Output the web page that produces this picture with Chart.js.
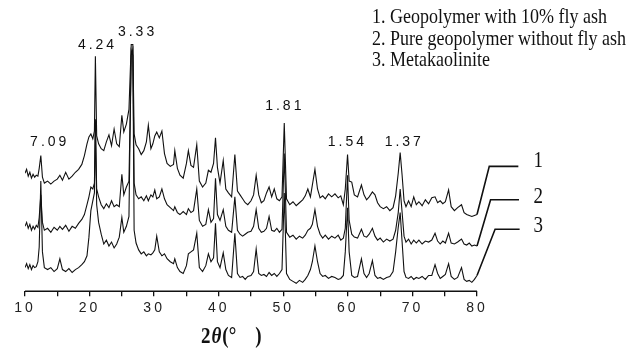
<!DOCTYPE html>
<html>
<head>
<meta charset="utf-8">
<title>XRD patterns</title>
<script src="https://cdn.jsdelivr.net/npm/chart.js@4.4.1/dist/chart.umd.min.js"></script>
<style>
  html, body { margin: 0; padding: 0; background: #fff; }
  canvas { display: block; }
</style>
</head>
<body>
<canvas id="xrdChart" width="637" height="349"></canvas>
<script>
// 2-theta grid (degrees), shared by the three patterns
const angles = [
  10, 10.25, 10.5, 10.75, 11, 11.25, 11.5, 11.75, 12, 12.2,
  12.45, 12.7, 13, 13.5, 14, 14.5, 15, 15.4, 15.8, 16.3,
  16.8, 17.3, 17.8, 18.3, 18.8, 19.2, 19.6, 19.9, 20.2, 20.5,
  20.75, 20.9, 21.1, 21.4, 21.8, 22.2, 22.6, 23.0, 23.4, 23.8,
  24.2, 24.6, 25.0, 25.3, 25.7, 26.1, 26.45, 26.7, 26.9, 27.2,
  27.6, 28.0, 28.4, 28.8, 29.1, 29.5, 29.8, 30.1, 30.4, 30.8,
  31.2, 31.6, 32.0, 32.5, 33.0, 33.2, 33.6, 34.0, 34.5, 35.0,
  35.3, 35.7, 36.1, 36.6, 37.0, 37.5, 38.0, 38.4, 38.8, 39.2,
  39.5, 39.8, 40.2, 40.7, 41.1, 41.5, 42.0, 42.5, 42.9, 43.3,
  43.7, 44.1, 44.5, 45.0, 45.4, 45.8, 46.2, 46.6, 47.0, 47.4,
  47.8, 48.2, 48.6, 49.0, 49.4, 49.8, 50.15, 50.5, 51.0, 51.5,
  52.0, 52.5, 53.0, 53.4, 53.8, 54.2, 54.5, 54.9, 55.3, 55.7,
  56.1, 56.5, 57.0, 57.5, 58.0, 58.5, 58.9, 59.3, 59.6, 59.95,
  60.2, 60.6, 61.0, 61.5, 62.1, 62.5, 62.9, 63.3, 63.8, 64.2,
  64.6, 65.0, 65.5, 66.0, 66.5, 67.0, 67.4, 67.8, 68.1, 68.4,
  68.7, 69.0, 69.4, 69.8, 70.2, 70.6, 71.0, 71.5, 72.0, 72.5,
  73.0, 73.5, 73.9, 74.3, 74.7, 75.1, 75.6, 76.0, 76.5, 77.0,
  77.6, 78.0, 78.4, 78.8, 79.2, 79.6, 80.0
];

// intensities, arbitrary units, already stacked as in the figure
// 1. Geopolymer with 10% fly ash
const flyAsh10 = [
  120, 124, 117, 121, 115, 119, 116, 118, 117, 125,
  138, 116, 110, 112, 109, 112, 114, 118, 113, 121,
  114, 117, 121, 124, 129, 138, 150, 157, 160, 155,
  163, 239, 158, 150, 145, 143, 152, 159, 148, 165,
  150, 147, 179, 162, 170, 185, 251, 251, 160, 149,
  145, 139, 143, 152, 169, 145, 150, 158, 162, 156,
  163, 140, 130, 127, 129, 143, 125, 118, 115, 130,
  143, 128, 126, 149, 112, 106, 110, 123, 121, 130,
  156, 126, 110, 133, 104, 100, 96, 139, 102, 98,
  94, 90, 88, 92, 98, 118, 98, 90, 92, 100,
  106, 96, 104, 94, 92, 96, 171, 94, 88, 91,
  87, 90, 93, 97, 104, 96, 108, 124, 104, 95,
  97, 94, 99, 96, 99, 95, 97, 88, 104, 139,
  112, 111, 98, 96, 108, 98, 93, 96, 101, 98,
  90, 86, 84, 86, 82, 85, 97, 120, 141, 118,
  92, 86, 92, 86, 96, 88, 91, 87, 93, 89,
  95, 96, 90, 92, 89, 91, 103, 86, 82, 85,
  88, 80, 78, 77, 76, 77, 78
];
// 2. Pure geopolymer without fly ash
const pureGeo = [
  66, 70, 64, 68, 62, 66, 63, 67, 65, 75,
  98, 70, 62, 64, 60, 65, 62, 66, 63, 67,
  61, 66, 64, 69, 73, 78, 88, 96, 106, 104,
  110, 170, 104, 96, 88, 84, 89, 85, 92, 86,
  88, 86, 119, 98, 106, 112, 240, 246, 110, 98,
  94, 96, 92, 97, 92, 98, 96, 103, 94, 96,
  104, 94, 88, 85, 82, 86, 80, 78, 81, 78,
  84, 80, 82, 104, 72, 66, 68, 83, 70, 74,
  115, 78, 72, 83, 66, 62, 60, 96, 62, 58,
  56, 58, 60, 61, 66, 83, 64, 60, 61, 64,
  76, 62, 61, 64, 60, 63, 140, 60, 55, 57,
  53, 56, 54, 57, 62, 64, 68, 83, 66, 58,
  54, 57, 53, 56, 54, 57, 52, 54, 64, 118,
  72, 58, 55, 54, 63, 56, 55, 58, 64, 56,
  52, 54, 50, 53, 51, 53, 62, 80, 104, 80,
  56, 50, 53, 48, 52, 49, 52, 48, 51, 50,
  52, 59, 51, 48, 51, 49, 59, 49, 48, 50,
  53, 48, 47, 49, 46, 47, 46
];
// 3. Metakaolinite
const metakaolin = [
  24, 28, 23, 27, 22, 26, 24, 25, 30, 45,
  112, 40, 24, 22, 24, 20, 23, 33, 22, 20,
  23, 19, 22, 24, 27, 30, 36, 55, 82, 92,
  100, 175, 88, 70, 58, 48, 52, 46, 50, 44,
  48, 55, 75, 60, 66, 76, 245, 240, 62, 49,
  42, 38, 40, 36, 38, 37, 39, 42, 56, 40,
  36, 38, 33, 30, 28, 33, 24, 20, 18, 26,
  38, 40, 42, 59, 24, 20, 26, 38, 30, 34,
  69, 30, 24, 39, 22, 16, 14, 59, 18, 14,
  15, 12, 15, 16, 20, 43, 18, 16, 17, 15,
  19, 16, 18, 15, 18, 22, 100, 18, 12, 10,
  8, 11, 9, 12, 16, 22, 30, 46, 30, 18,
  15, 16, 13, 15, 14, 12, 13, 16, 40, 85,
  40, 16, 14, 15, 33, 18, 14, 18, 31, 16,
  13, 14, 12, 14, 15, 20, 40, 65, 80, 50,
  20, 14, 13, 15, 12, 14, 13, 15, 12, 16,
  16, 27, 18, 13, 15, 17, 28, 15, 12, 14,
  24, 12, 10, 11, 9, 12, 16
];

const seriesNames = ['1. Geopolymer with 10% fly ash', '2. Pure geopolymer without fly ash', '3. Metakaolinite'];
const seriesTags = ['1', '2', '3'];

// leader lines running from the end of each pattern to its number
const leaderX = [[80, 81.9, 86.4], [80, 82.1, 86.5], [80, 82.8, 86.6]];
const leaderY = [[78, 127, 127], [46, 93, 93], [16, 63, 63]];
const tagLevel = [132, 96, 66];
const tagAngle = 89.5;

// d-spacings marked over the peaks
const peakD = ['7.09', '4.24', '3.33', '1.81', '1.54', '1.37'];
const peakAngle = [13.6, 21.0, 27.2, 50.0, 59.7, 68.5];
const peakLabelLevel = [152, 250, 264, 188, 152, 152];

[flyAsh10, pureGeo, metakaolin].forEach((s, i) => {
  if (s.length !== angles.length) throw new Error('series ' + (i + 1) + ' has ' + s.length + ' values, expected ' + angles.length);
});

const INK = '#111';
const SANS = '"Liberation Sans", Arial, sans-serif';
const SERIF = '"Liberation Serif", "Times New Roman", serif';
const SY = 1.17; // serif text in the figure is a bit taller than wide

function toPoints(xs, ys) {
  return xs.map((a, i) => ({ x: a, y: ys[i] }));
}

function tallText(ctx, text, px, py) {
  ctx.save();
  ctx.translate(px, py);
  ctx.scale(1, SY);
  ctx.fillText(text, 0, 0);
  ctx.restore();
}

const decorations = {
  id: 'decorations',
  beforeDraw(chart) {
    chart.ctx.letterSpacing = '3px'; // wide digits on the axis labels
  },
  afterDraw(chart) {
    const { ctx, chartArea, scales: { x, y } } = chart;
    ctx.save();
    ctx.letterSpacing = '0px';

    // axis line only spans 10..80
    ctx.strokeStyle = INK;
    ctx.lineWidth = 1.5;
    ctx.beginPath();
    ctx.moveTo(x.getPixelForValue(10), chartArea.bottom);
    ctx.lineTo(x.getPixelForValue(80), chartArea.bottom);
    ctx.stroke();

    ctx.fillStyle = INK;

    // d-spacing labels
    ctx.font = '14px ' + SANS;
    ctx.letterSpacing = '3px';
    ctx.textAlign = 'center';
    ctx.textBaseline = 'middle';
    peakD.forEach((t, i) => {
      ctx.fillText(t, x.getPixelForValue(peakAngle[i]) + 1.5, y.getPixelForValue(peakLabelLevel[i]));
    });
    ctx.letterSpacing = '0px';

    // pattern numbers at the leader ends
    ctx.font = '19px ' + SERIF;
    seriesTags.forEach((t, i) => {
      tallText(ctx, t, x.getPixelForValue(tagAngle), y.getPixelForValue(tagLevel[i]));
    });

    // legend text, top right
    ctx.font = '18px ' + SERIF;
    ctx.textAlign = 'left';
    ctx.textBaseline = 'alphabetic';
    seriesNames.forEach((t, i) => tallText(ctx, t, 372, 23 + i * 21.5));

    // axis title: 2θ(°  )
    let tx = 201;
    const ty = 343;
    ctx.font = 'bold 19px ' + SERIF;
    tallText(ctx, '2', tx, ty);
    tx += ctx.measureText('2').width + 1;
    ctx.font = 'italic bold 19px ' + SERIF;
    tallText(ctx, 'θ', tx, ty);
    tx += ctx.measureText('θ').width + 1;
    ctx.font = 'bold 19px ' + SERIF;
    tallText(ctx, '(°', tx, ty);
    tx += ctx.measureText('(°').width + 19;
    tallText(ctx, ')', tx, ty);

    ctx.restore();
    chart.ctx.letterSpacing = '0px';
  }
};

const traceStyle = { borderColor: INK, borderWidth: 1.1, pointRadius: 0, fill: false, tension: 0 };
const leaderStyle = { borderColor: INK, borderWidth: 1.6, pointRadius: 0, fill: false, tension: 0 };

new Chart(document.getElementById('xrdChart'), {
  type: 'line',
  data: {
    datasets: [
      { label: seriesNames[0], data: toPoints(angles, flyAsh10), ...traceStyle },
      { label: seriesNames[1], data: toPoints(angles, pureGeo), ...traceStyle },
      { label: seriesNames[2], data: toPoints(angles, metakaolin), ...traceStyle },
      { label: 'leader 1', data: toPoints(leaderX[0], leaderY[0]), ...leaderStyle },
      { label: 'leader 2', data: toPoints(leaderX[1], leaderY[1]), ...leaderStyle },
      { label: 'leader 3', data: toPoints(leaderX[2], leaderY[2]), ...leaderStyle }
    ]
  },
  options: {
    responsive: false,
    animation: false,
    layout: { padding: { left: 25, right: 82.5, top: 16, bottom: 28 } },
    plugins: { legend: { display: false }, tooltip: { enabled: false } },
    scales: {
      x: {
        type: 'linear',
        min: 10,
        max: 92,
        border: { display: false },
        grid: {
          drawOnChartArea: false,
          drawTicks: true,
          tickLength: 5,
          lineWidth: 1.3,
          color: c => (c.tick && c.tick.value <= 80 ? INK : 'rgba(0,0,0,0)')
        },
        ticks: {
          stepSize: 5,
          autoSkip: false,
          maxRotation: 0,
          padding: 4,
          color: '#222',
          font: { family: SANS, size: 14 },
          callback: v => (v % 10 === 0 && v <= 80 ? String(v) : '')
        }
      },
      y: { display: false, min: 0, max: 280 }
    }
  },
  plugins: [decorations]
});
</script>
</body>
</html>
